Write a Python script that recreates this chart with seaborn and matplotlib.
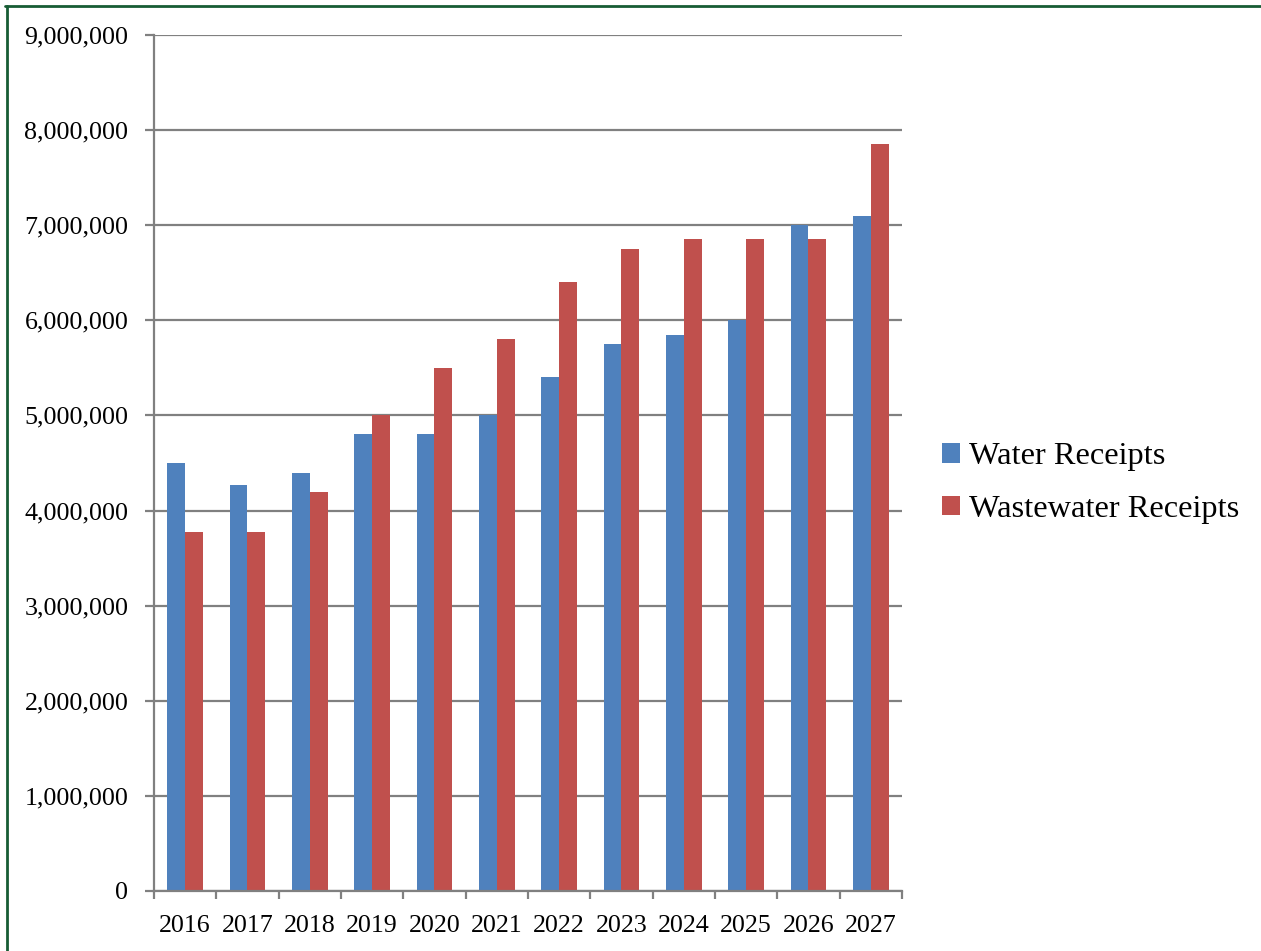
import pandas as pd
import numpy as np
import matplotlib.pyplot as plt
import matplotlib.ticker as mticker
from matplotlib.lines import Line2D
import seaborn as sns

years = ['2016', '2017', '2018', '2019', '2020', '2021',
         '2022', '2023', '2024', '2025', '2026', '2027']
water = [4500000, 4270000, 4400000, 4800000, 4800000, 5000000,
         5400000, 5750000, 5850000, 6000000, 7000000, 7100000]
wastewater = [3770000, 3770000, 4200000, 5000000, 5500000, 5800000,
              6400000, 6750000, 6850000, 6850000, 6850000, 7850000]
series = ['Water Receipts', 'Wastewater Receipts']
colors = ['#4F81BD', '#C0504D']

df = pd.DataFrame({'Year': years * 2,
                   'Receipts': water + wastewater,
                   'Series': [series[0]] * len(years) + [series[1]] * len(years)})

sns.set_style('white')
plt.rcParams['font.family'] = ['Liberation Serif', 'DejaVu Serif']
plt.rcParams['text.color'] = 'black'
plt.rcParams['xtick.color'] = 'black'
plt.rcParams['ytick.color'] = 'black'

fig = plt.figure(figsize=(12.61, 9.51), dpi=100)
ax = fig.add_axes([0.1221, 0.0631, 0.7153 - 0.1221, 0.9632 - 0.0631])

sns.barplot(data=df, x='Year', y='Receipts', hue='Series', palette=colors,
            saturation=1, width=0.57, edgecolor='none', linewidth=0, ax=ax)

grid = '#808080'
ax.set_ylim(0, 9000000)
ax.set_xlim(-0.5, len(years) - 0.5)
ax.set_yticks(np.arange(0, 9000001, 1000000))
ax.yaxis.set_major_formatter(mticker.FuncFormatter(lambda v, p: f'{int(v):,}'))
ax.yaxis.grid(True, color=grid, linewidth=1.6)
ax.set_axisbelow(True)
ax.set_xlabel('')
ax.set_ylabel('')

for s in ['top', 'right']:
    ax.spines[s].set_visible(False)
for s in ['left', 'bottom']:
    ax.spines[s].set_color(grid)
    ax.spines[s].set_linewidth(1.6)

ax.set_xticks(np.arange(-0.5, len(years), 1.0), minor=True)
ax.tick_params(axis='x', which='major', bottom=True, length=0, pad=17, labelsize=18.7,
               labelcolor='black')
ax.tick_params(axis='x', which='minor', bottom=True, length=6, width=1.6,
               color=grid, direction='out')
ax.tick_params(axis='y', left=True, length=6.5, width=1.6, color=grid, direction='out',
               pad=12, labelsize=18.7, labelcolor='black')

ax.legend(loc='center left', bbox_to_anchor=(0.747, 0.492),
          bbox_transform=fig.transFigure, frameon=False, fontsize=23.3,
          handlelength=0.55, handleheight=0.55, handletextpad=0.3,
          labelspacing=0.72, borderpad=0, borderaxespad=0)

# green page frame
green = '#175c34'
fig.add_artist(Line2D([0.004, 1.0], [0.9937, 0.9937], color=green, linewidth=2,
                      transform=fig.transFigure))
fig.add_artist(Line2D([0.0052, 0.0052], [0.0, 0.9937], color=green, linewidth=2,
                      transform=fig.transFigure))

fig.savefig('out.png', dpi=100)
